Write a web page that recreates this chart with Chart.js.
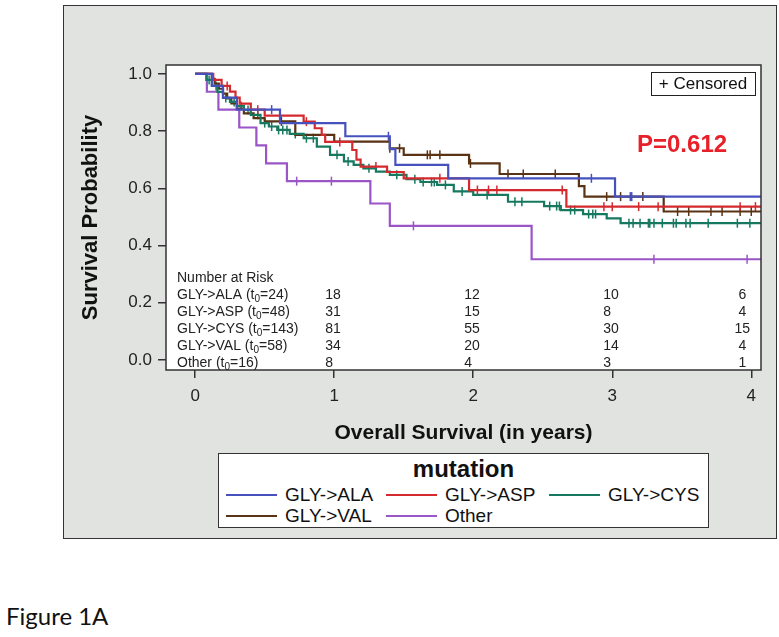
<!DOCTYPE html>
<html>
<head>
<meta charset="utf-8">
<script src="https://cdn.jsdelivr.net/npm/chart.js@4.4.1/dist/chart.umd.min.js"></script>
<style>
html,body{margin:0;padding:0;background:#fff;width:779px;height:637px;overflow:hidden;font-family:"Liberation Sans",Arial,sans-serif;}
#panel{position:absolute;left:63px;top:5px;width:712px;height:532px;background:#e1e3e1;border:1px solid #333;}
#wrap{position:absolute;left:0;top:0;width:779px;height:450px;}
#legend{position:absolute;left:218px;top:453px;width:491px;height:75px;background:#fff;border:1px solid #333;box-sizing:border-box;color:#111;}
#legend .ttl{position:absolute;left:0;width:100%;top:1px;text-align:center;font-weight:bold;font-size:24px;line-height:28px;}
#legend .it{position:absolute;height:22px;font-size:19px;line-height:22px;white-space:nowrap;}
#legend .ln{display:inline-block;width:51px;height:2px;vertical-align:middle;margin-right:8px;position:relative;top:-1px;}
#caption{position:absolute;left:6px;top:601px;font-family:Lato,"Open Sans",sans-serif;font-size:24px;color:#111;}
</style>
</head>
<body>
<div id="panel"></div>
<div id="wrap"><canvas id="c" width="779" height="450"></canvas></div>
<div id="legend"></div>
<div id="caption">Figure 1A</div>
<script>
// ---- data ----
const GROUPS = ["GLY->ALA", "GLY->ASP", "GLY->CYS", "GLY->VAL", "Other"];
const N0 = [24, 48, 143, 58, 16];
const X_TICKS = [0, 1, 2, 3, 4];
const Y_TICKS = [0, 0.2, 0.4, 0.6, 0.8, 1.0];
const RISK_TIMES = [1, 2, 3, 4];
const RISK_ALA = [18, 12, 10, 6];
const RISK_ASP = [31, 15, 8, 4];
const RISK_CYS = [81, 55, 30, 15];
const RISK_VAL = [34, 20, 14, 4];
const RISK_OTH = [8, 4, 3, 1];

const ALA_T = [0, 0.12, 0.20, 0.30, 0.61, 1.08, 1.40, 1.44, 1.82, 3.02, 4.07];
const ALA_S = [1.0, 0.958, 0.917, 0.875, 0.828, 0.782, 0.737, 0.682, 0.635, 0.571, 0.571];
const ALA_C = [0.55, 1.39, 2.85, 3.13, 3.14];

const ASP_T = [0, 0.13, 0.19, 0.25, 0.29, 0.32, 0.40, 0.50, 0.78, 0.86, 0.91, 0.935, 1.13, 1.16, 1.19, 1.38, 1.50, 1.97, 2.67, 4.07];
const ASP_S = [1.0, 0.979, 0.958, 0.938, 0.917, 0.896, 0.875, 0.854, 0.833, 0.810, 0.787, 0.762, 0.734, 0.700, 0.676, 0.657, 0.635, 0.594, 0.536, 0.536];
const ASP_C = [0.23, 0.45, 0.80, 1.04, 1.30, 1.76, 2.03, 2.11, 2.17, 2.64, 2.94, 3.00, 3.19, 3.33, 3.92, 4.03];

const CYS_T = [0, 0.08, 0.12, 0.16, 0.20, 0.25, 0.30, 0.35, 0.40, 0.47, 0.53, 0.59, 0.68, 0.78, 0.875, 0.97, 1.07, 1.14, 1.21, 1.30, 1.40, 1.52, 1.62, 1.74, 1.86, 2.00, 2.25, 2.51, 2.63, 2.79, 2.96, 3.06, 4.07];
const CYS_S = [1.0, 0.979, 0.958, 0.937, 0.916, 0.902, 0.888, 0.874, 0.857, 0.828, 0.816, 0.804, 0.790, 0.775, 0.746, 0.717, 0.694, 0.682, 0.670, 0.658, 0.647, 0.632, 0.622, 0.612, 0.589, 0.577, 0.553, 0.538, 0.524, 0.510, 0.495, 0.478, 0.478];
const CYS_C = [0.10, 0.15, 0.22, 0.28, 0.33, 0.38, 0.45, 0.50, 0.55, 0.60, 0.63, 0.66, 0.72, 0.80, 0.85, 1.02, 1.10, 1.25, 1.45, 1.58, 1.64, 1.70, 1.72, 1.80, 1.92, 2.10, 2.30, 2.35, 2.55, 2.60, 2.62, 2.70, 2.73, 2.83, 2.86, 2.88, 3.12, 3.15, 3.20, 3.26, 3.27, 3.30, 3.36, 3.44, 3.46, 3.53, 3.56, 3.69, 3.90, 3.99];

const VAL_T = [0, 0.12, 0.14, 0.17, 0.20, 0.23, 0.26, 0.30, 0.35, 0.42, 0.50, 0.72, 1.00, 1.40, 1.50, 1.97, 2.19, 2.76, 2.80, 3.37, 4.07];
const VAL_S = [1.0, 0.983, 0.966, 0.948, 0.931, 0.914, 0.897, 0.879, 0.862, 0.845, 0.834, 0.787, 0.763, 0.740, 0.717, 0.687, 0.650, 0.608, 0.571, 0.519, 0.519];
const VAL_C = [0.12, 0.62, 1.40, 1.47, 1.67, 1.69, 1.76, 1.98, 2.25, 2.36, 2.59, 2.96, 3.06, 3.22, 3.47, 3.55, 3.71, 3.79, 3.92, 4.00];

const OTH_T = [0, 0.084, 0.167, 0.317, 0.44, 0.51, 0.66, 1.26, 1.40, 2.42, 4.07];
const OTH_S = [1.0, 0.9375, 0.875, 0.8125, 0.75, 0.6875, 0.625, 0.547, 0.469, 0.352, 0.352];
const OTH_C = [0.73, 0.98, 1.57, 3.30, 3.97];

// ---- styles ----
const COLORS = ["#4651bd", "#d42a2e", "#16785f", "#5a3214", "#9a55c6"];
const FONT = '"Liberation Sans", Arial, sans-serif';

function stepAt(T, S, t) { let v = S[0]; for (let i = 0; i < T.length; i++) { if (T[i] <= t) v = S[i]; } return v; }
function pts(T, S) { return T.map((t, i) => ({ x: t, y: S[i] })); }
function cens(T, S, C) { return C.map(c => ({ x: c, y: stepAt(T, S, c) })); }

const SERIES = [[ALA_T, ALA_S, ALA_C], [ASP_T, ASP_S, ASP_C], [CYS_T, CYS_S, CYS_C], [VAL_T, VAL_S, VAL_C], [OTH_T, OTH_S, OTH_C]];
const RISK = [RISK_ALA, RISK_ASP, RISK_CYS, RISK_VAL, RISK_OTH];

const datasets = [];
SERIES.forEach((s, i) => {
  datasets.push({ label: GROUPS[i], data: pts(s[0], s[1]), stepped: 'before', borderColor: COLORS[i], borderWidth: 2.2, pointRadius: 0, fill: false, showLine: true });
});
SERIES.forEach((s, i) => {
  datasets.push({ label: GROUPS[i] + ' censored', data: cens(s[0], s[1], s[2]), showLine: false, pointStyle: 'line', rotation: 90, pointRadius: 4.5, pointBorderWidth: 1.5, borderColor: COLORS[i], backgroundColor: COLORS[i], pointBorderColor: COLORS[i] });
});

const overlay = {
  id: 'overlay',
  beforeDraw(chart) {
    const { ctx, chartArea: a } = chart;
    ctx.save(); ctx.fillStyle = '#fff'; ctx.fillRect(a.left, a.top, a.right - a.left, a.bottom - a.top); ctx.restore();
  },
  afterDraw(chart) {
    const { ctx, chartArea: a, scales: { x } } = chart;
    ctx.save();
    // frame
    ctx.strokeStyle = '#333'; ctx.lineWidth = 1.5;
    ctx.strokeRect(a.left, a.top, a.right - a.left, a.bottom - a.top);
    // censored legend box
    ctx.fillStyle = '#fff'; ctx.strokeStyle = '#222'; ctx.lineWidth = 1;
    const bw = 104, bh = 23, bx = a.right - 6 - bw, by = a.top + 7;
    ctx.fillRect(bx, by, bw, bh); ctx.strokeRect(bx + 0.5, by + 0.5, bw, bh);
    ctx.fillStyle = '#111'; ctx.font = '17px ' + FONT; ctx.textAlign = 'center'; ctx.textBaseline = 'middle';
    ctx.fillText('+ Censored', bx + bw / 2, by + bh / 2 + 1);
    // p value
    ctx.fillStyle = '#e8202a'; ctx.font = 'bold 24px ' + FONT; ctx.textAlign = 'left'; ctx.textBaseline = 'alphabetic';
    ctx.fillText('P=0.612', a.right - 124, a.top + 87);
    // number at risk table
    ctx.fillStyle = '#222'; ctx.font = '14px ' + FONT;
    const rowH = 16.9, lastBase = a.bottom - 3.5;
    const base = i => lastBase - (5 - i) * rowH;
    ctx.textAlign = 'left';
    ctx.fillText('Number at Risk', a.left + 11, base(0));
    GROUPS.forEach((g, i) => {
      const y = base(i + 1);
      let xx = a.left + 11;
      ctx.font = '14px ' + FONT;
      const p1 = g + ' (t';
      ctx.fillText(p1, xx, y); xx += ctx.measureText(p1).width;
      ctx.font = '10px ' + FONT; ctx.fillText('0', xx, y + 3); xx += ctx.measureText('0').width;
      ctx.font = '14px ' + FONT; ctx.fillText('=' + N0[i] + ')', xx, y);
      RISK[i].forEach((n, j) => {
        const px = x.getPixelForValue(RISK_TIMES[j]) - 9;
        if (j === RISK_TIMES.length - 1) { ctx.textAlign = 'center'; ctx.fillText(String(n), px, y); ctx.textAlign = 'left'; }
        else ctx.fillText(String(n), px, y);
      });
    });
    ctx.restore();
  }
};

new Chart(document.getElementById('c'), {
  type: 'line',
  data: { datasets },
  options: {
    responsive: false, animation: false, devicePixelRatio: 1,
    layout: { padding: { left: 78, top: 65, right: 18, bottom: 4 } },
    plugins: { legend: { display: false }, tooltip: { enabled: false } },
    scales: {
      x: {
        type: 'linear', min: -0.21, max: 4.07,
        afterBuildTicks: s => { s.ticks = X_TICKS.map(v => ({ value: v })); },
        afterFit: s => { s.height = 76; },
        ticks: { font: { size: 17, family: FONT }, color: '#222', padding: 8, maxRotation: 0, autoSkip: false, callback: v => String(v) },
        grid: { drawOnChartArea: false, drawTicks: true, tickLength: 8, color: '#333', lineWidth: 1.5 },
        border: { display: false },
        title: { display: true, text: 'Overall Survival (in years)', font: { size: 21, weight: 'bold', family: FONT }, color: '#111', padding: 0 }
      },
      y: {
        type: 'linear', min: -0.035, max: 1.031,
        afterBuildTicks: s => { s.ticks = Y_TICKS.map(v => ({ value: v })); },
        afterFit: s => { s.width = 88; },
        ticks: { font: { size: 17, family: FONT }, color: '#222', padding: 6, autoSkip: false, callback: v => Number(v).toFixed(1) },
        grid: { drawOnChartArea: false, drawTicks: true, tickLength: 8, color: '#333', lineWidth: 1.5 },
        border: { display: false },
        title: { display: true, text: 'Survival Probability', font: { size: 22, weight: 'bold', family: FONT }, color: '#111', padding: 0 }
      }
    }
  },
  plugins: [overlay]
});

// ---- HTML legend ----
const lg = document.getElementById('legend');
lg.innerHTML = '<div class="ttl">mutation</div>';
const LEG_POS = [[7, 30], [167, 30], [330, 30], [7, 51], [167, 51]];
GROUPS.forEach((g, i) => {
  const d = document.createElement('div');
  d.className = 'it';
  d.style.left = LEG_POS[i][0] + 'px'; d.style.top = LEG_POS[i][1] + 'px';
  d.innerHTML = '<span class="ln" style="background:' + COLORS[i] + '"></span>' + g.replace('>', '&gt;');
  lg.appendChild(d);
});
</script>
</body>
</html>
